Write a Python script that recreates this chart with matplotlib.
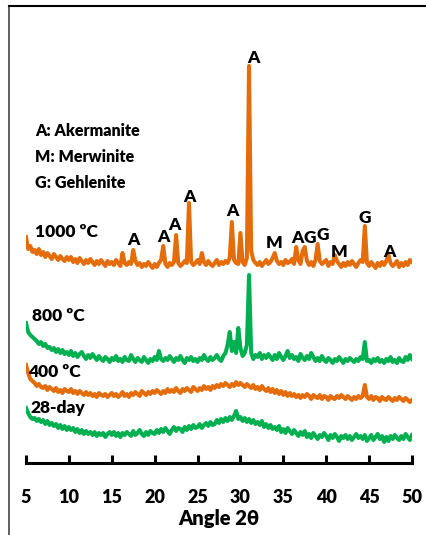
import numpy as np
import matplotlib.pyplot as plt
import matplotlib
from matplotlib.lines import Line2D

matplotlib.rcParams.update({'font.family': ['Lato', 'DejaVu Sans'], 'font.weight': 'heavy'})

# 2theta grid, 0.25 deg steps
angle = np.arange(5, 50.001, 0.25)

# stacked intensities (arbitrary units, already offset)
s1000 = [226, 214, 217, 211, 213, 209, 214, 208, 211, 206, 210, 207, 204, 209, 206, 203,
         207, 204, 202, 206, 203, 206, 201, 204, 200, 205, 202, 199, 203, 200, 204, 201,
         198, 202, 199, 203, 200, 197, 202, 199, 201, 198, 203, 200, 197, 210, 200, 198,
         201, 199, 213, 202, 198, 200, 196, 199, 197, 201, 198, 195, 199, 196, 200, 203,
         217, 199, 196, 200, 198, 201, 228, 200, 197, 199, 202, 200, 260, 201, 198, 200,
         203, 199, 210, 201, 198, 202, 199, 197, 200, 203, 198, 201, 199, 202, 200, 205,
         241, 203, 200, 199, 230, 201, 198, 205, 397, 212, 203, 200, 198, 201, 197, 200,
         203, 199, 201, 205, 210, 202, 199, 201, 198, 203, 200, 201, 204, 199, 216, 203,
         199, 212, 216, 202, 198, 201, 197, 203, 219, 202, 199, 201, 203, 197, 201, 199,
         208, 202, 199, 196, 200, 197, 201, 198, 202, 199, 196, 200, 203, 201, 237, 200,
         197, 201, 198, 195, 200, 197, 201, 198, 202, 208, 200, 197, 199, 202, 196, 200,
         197, 201, 198, 203, 201]
s800 = [140, 131, 128, 126, 124, 122, 119, 121, 117, 119, 115, 116, 113, 115, 111, 114,
        110, 113, 109, 111, 108, 112, 107, 110, 106, 109, 111, 107, 104, 108, 105, 109,
        106, 103, 107, 104, 102, 106, 104, 101, 105, 103, 107, 102, 104, 101, 106, 103,
        102, 108, 104, 101, 105, 103, 101, 106, 103, 100, 104, 102, 106, 103, 112, 104,
        102, 105, 103, 107, 104, 101, 105, 103, 107, 103, 100, 105, 103, 106, 102, 104,
        101, 105, 103, 108, 104, 102, 106, 103, 105, 108, 104, 102, 107, 110, 118, 131,
        112, 121, 110, 135, 115, 107, 110, 118, 188, 110, 104, 108, 106, 110, 104, 108,
        105, 109, 106, 103, 108, 104, 110, 106, 103, 107, 112, 105, 108, 104, 106, 102,
        109, 105, 103, 107, 104, 110, 106, 102, 105, 102, 107, 103, 101, 105, 103, 100,
        104, 102, 106, 103, 100, 104, 102, 105, 103, 101, 104, 102, 106, 104, 121, 102,
        103, 100, 104, 102, 105, 101, 103, 100, 104, 102, 106, 101, 103, 100, 105, 102,
        101, 106, 103, 108, 104]
s400 = [98, 90, 84, 82, 80, 77, 79, 76, 75, 77, 73, 76, 74, 72, 75, 71,
        73, 70, 74, 72, 71, 74, 70, 72, 69, 72, 70, 68, 71, 68, 70, 67,
        69, 66, 70, 68, 67, 69, 66, 68, 70, 67, 69, 66, 68, 71, 67, 69,
        66, 70, 68, 71, 69, 67, 72, 70, 68, 71, 69, 72, 70, 73, 71, 69,
        72, 70, 74, 71, 73, 71, 75, 72, 70, 74, 72, 75, 73, 71, 76, 74,
        72, 75, 73, 77, 74, 76, 73, 77, 75, 78, 76, 79, 77, 80, 78, 76,
        79, 77, 81, 78, 80, 78, 76, 79, 77, 75, 78, 74, 76, 73, 77, 74,
        72, 75, 71, 74, 70, 73, 69, 72, 68, 71, 67, 70, 67, 69, 66, 68,
        65, 68, 66, 69, 67, 64, 68, 66, 65, 68, 64, 67, 66, 63, 67, 65,
        64, 67, 65, 68, 66, 64, 67, 65, 63, 66, 64, 67, 65, 67, 78, 66,
        64, 67, 63, 66, 65, 62, 66, 64, 63, 66, 64, 62, 65, 63, 66, 64,
        62, 65, 63, 61, 63]
s28 = [55, 50, 46, 44, 45, 42, 44, 41, 43, 39, 42, 38, 40, 37, 39, 35,
       38, 34, 37, 33, 36, 33, 35, 31, 34, 30, 33, 29, 32, 29, 31, 28,
       31, 27, 30, 28, 30, 26, 29, 31, 28, 31, 27, 30, 26, 30, 28, 31,
       29, 27, 32, 28, 30, 33, 29, 27, 31, 28, 32, 30, 29, 33, 30, 34,
       31, 35, 32, 29, 33, 36, 32, 35, 34, 31, 36, 33, 37, 34, 38, 35,
       36, 39, 35, 38, 40, 37, 41, 38, 39, 43, 40, 44, 41, 45, 42, 46,
       43, 47, 52, 44, 46, 42, 45, 41, 44, 40, 43, 39, 41, 38, 42, 36,
       39, 35, 38, 34, 36, 33, 37, 31, 34, 30, 35, 32, 29, 33, 30, 27,
       31, 28, 32, 26, 29, 25, 30, 27, 24, 28, 26, 30, 27, 23, 28, 25,
       29, 26, 22, 27, 25, 28, 24, 27, 23, 26, 29, 25, 27, 24, 28, 22,
       25, 28, 23, 26, 29, 24, 27, 21, 26, 22, 27, 24, 28, 25, 23, 27,
       24, 29, 26, 23, 28]

series_names = ['1000 \u00baC', '800 \u00baC', '400 \u00baC', '28-day']
series_data = [s1000, s800, s400, s28]
series_colors = ['#E46C0A', '#00B050', '#E46C0A', '#00B050']
name_pos = [(6.05, 231), (5.7, 147), (5.23, 91), (5.47, 55)]

# phase labels on the 1000 C pattern
peak_labels = ['A', 'A', 'A', 'A', 'A', 'A', 'M', 'A', 'G', 'G', 'M', 'G', 'A']
peak_x = [31.5, 17.54, 21.06, 22.35, 24.1, 29.03, 33.96, 36.65, 38.06, 39.58, 41.46, 44.5, 47.4]
peak_y = [405, 223, 226, 238, 266, 252, 220, 225, 225, 228, 211, 245, 211]

phase_key = ['A: Akermanite', 'M: Merwinite', 'G: Gehlenite']
key_y = [332, 306, 280]

fig = plt.figure(figsize=(4.27, 5.35), dpi=100)
ax = fig.add_axes([26/427, 72/535, 386/427, 457/535])

for d, c in zip(series_data, series_colors):
    ax.plot(angle, d, color=c, lw=2.9)

for n, (px, py) in zip(series_names, name_pos):
    ax.text(px, py, n, fontsize=12.5, fontweight='heavy', ha='left', va='center')

for l, px, py in zip(peak_labels, peak_x, peak_y):
    ax.text(px, py, l, fontsize=12.5, fontweight='heavy', ha='center', va='center')

for k, ky in zip(phase_key, key_y):
    ax.text(6.05, ky, k, fontsize=11.5, fontweight='heavy', ha='left', va='center')

ax.set_xlim(5, 50)
ax.set_ylim(0, 457)
ax.set_xticks(range(5, 51, 5))
ax.set_yticks([])
for s in ['left', 'right', 'top']:
    ax.spines[s].set_visible(False)
ax.spines['bottom'].set_linewidth(2.2)
ax.tick_params(axis='x', direction='in', length=6, width=2.2, pad=19, labelsize=13)
for t in ax.get_xticklabels():
    t.set_fontweight('heavy')
ax.set_xlabel('Angle 2\u03b8', fontsize=14.5, fontweight='heavy', labelpad=2)

# outer frame (left and top edges)
fig.add_artist(Line2D([9/427, 9/427], [0, 1 - 6/535], color='#444444', lw=1.2))
fig.add_artist(Line2D([9/427, 1], [1 - 6/535, 1 - 6/535], color='black', lw=1.5))

fig.savefig('out.png', dpi=100)
